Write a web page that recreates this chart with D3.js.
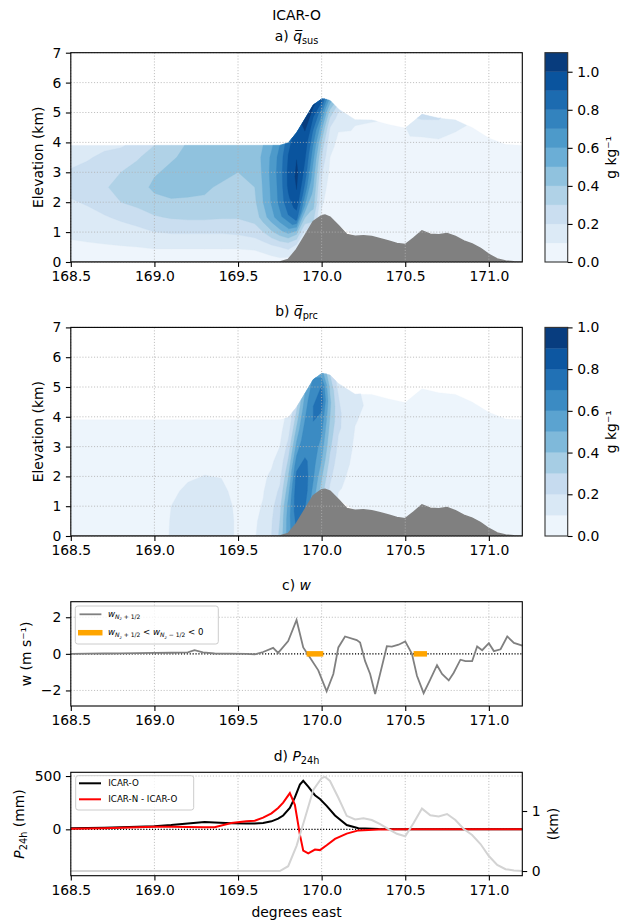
<!DOCTYPE html>
<html>
<head>
<meta charset="utf-8">
<script src="https://cdn.jsdelivr.net/npm/d3@7"></script>
<style>
  body { margin: 0; background: #fff; }
  svg { font-family: "DejaVu Sans", sans-serif; }
</style>
</head>
<body>
<div id="chart"></div>
<script>
// ---- data ----
const lonTicks = [168.5, 169.0, 169.5, 170.0, 170.5, 171.0];
const elevTicks = [0, 1, 2, 3, 4, 5, 6, 7];

// terrain profile (km)
const terrainLon = [168.5, 169.75, 169.8, 169.85, 169.9, 169.95, 170.0, 170.02, 170.05, 170.1,
  170.15, 170.2, 170.25, 170.3, 170.35, 170.4, 170.45, 170.5, 170.55, 170.6,
  170.65, 170.7, 170.75, 170.8, 170.85, 170.9, 170.95, 171.0, 171.05, 171.1, 171.15, 171.2];
const terrainKm = [0, 0, 0.08, 0.42, 0.88, 1.35, 1.55, 1.57, 1.5, 1.22,
  0.92, 0.86, 0.88, 0.85, 0.78, 0.7, 0.62, 0.58, 0.8, 1.04,
  0.93, 0.91, 0.95, 0.85, 0.7, 0.6, 0.45, 0.25, 0.1, 0.03, 0.01, 0];

// model columns and levels (height above ground, km)
const fieldLon = [168.5, 168.6, 168.7, 168.8, 168.9, 169.0, 169.1, 169.2, 169.3, 169.4, 169.5,
  169.6, 169.65, 169.7, 169.75, 169.8, 169.85, 169.9, 169.95, 170.0, 170.05, 170.1,
  170.2, 170.3, 170.4, 170.5, 170.6, 170.7, 170.8, 170.9, 171.0, 171.1, 171.2];
const fieldHeight = [0, 0.5, 1, 1.5, 2, 2.5, 3, 3.5, 3.9];

// suspended hydrometeors, g/kg, one row per column (bottom -> top)
const qsus = [
  [0.04, 0.08, 0.12, 0.16, 0.19, 0.23, 0.21, 0.17, 0.15],
  [0.04, 0.085, 0.13, 0.17, 0.21, 0.25, 0.23, 0.19, 0.17],
  [0.04, 0.09, 0.14, 0.19, 0.25, 0.29, 0.27, 0.22, 0.18],
  [0.04, 0.095, 0.15, 0.22, 0.3, 0.33, 0.3, 0.24, 0.19],
  [0.04, 0.1, 0.17, 0.25, 0.33, 0.36, 0.34, 0.29, 0.23],
  [0.03, 0.11, 0.2, 0.29, 0.37, 0.42, 0.39, 0.35, 0.3],
  [0.03, 0.11, 0.21, 0.31, 0.39, 0.43, 0.42, 0.39, 0.36],
  [0.03, 0.11, 0.21, 0.32, 0.39, 0.42, 0.43, 0.42, 0.41],
  [0.03, 0.11, 0.21, 0.32, 0.39, 0.41, 0.43, 0.44, 0.43],
  [0.03, 0.11, 0.21, 0.31, 0.37, 0.39, 0.42, 0.44, 0.44],
  [0.03, 0.11, 0.22, 0.31, 0.35, 0.37, 0.4, 0.44, 0.44],
  [0.03, 0.12, 0.25, 0.34, 0.38, 0.4, 0.42, 0.45, 0.45],
  [0.04, 0.14, 0.3, 0.45, 0.5, 0.51, 0.52, 0.52, 0.5],
  [0.05, 0.17, 0.38, 0.56, 0.61, 0.62, 0.63, 0.62, 0.58],
  [0.06, 0.2, 0.46, 0.67, 0.73, 0.74, 0.75, 0.74, 0.7],
  [0.07, 0.26, 0.58, 0.8, 0.88, 0.92, 0.92, 0.9, 0.86],
  [0.1, 0.4, 0.82, 0.95, 1.0, 1.02, 1.0, 0.97, 0.95],
  [0.12, 0.35, 0.6, 0.75, 0.85, 0.9, 0.95, 1.0, 1.03],
  [0.3, 0.42, 0.48, 0.54, 0.6, 0.68, 0.78, 0.9, 1.02],
  [0.08, 0.12, 0.16, 0.22, 0.3, 0.4, 0.55, 0.75, 0.95],
  [0.04, 0.05, 0.06, 0.08, 0.1, 0.13, 0.2, 0.35, 0.55],
  [0.03, 0.04, 0.05, 0.05, 0.06, 0.07, 0.09, 0.13, 0.22],
  [0.03, 0.04, 0.05, 0.05, 0.06, 0.06, 0.07, 0.09, 0.11],
  [0.03, 0.04, 0.05, 0.05, 0.06, 0.06, 0.07, 0.08, 0.105],
  [0.03, 0.04, 0.05, 0.05, 0.06, 0.06, 0.07, 0.08, 0.09],
  [0.03, 0.04, 0.05, 0.05, 0.06, 0.06, 0.07, 0.08, 0.095],
  [0.03, 0.04, 0.05, 0.05, 0.06, 0.06, 0.08, 0.15, 0.24],
  [0.03, 0.04, 0.05, 0.05, 0.06, 0.06, 0.08, 0.13, 0.21],
  [0.03, 0.04, 0.05, 0.05, 0.06, 0.06, 0.07, 0.1, 0.14],
  [0.03, 0.04, 0.05, 0.05, 0.05, 0.06, 0.06, 0.07, 0.08],
  [0.03, 0.04, 0.04, 0.05, 0.05, 0.05, 0.06, 0.06, 0.07],
  [0.03, 0.04, 0.04, 0.05, 0.05, 0.05, 0.06, 0.06, 0.07],
  [0.03, 0.04, 0.04, 0.05, 0.05, 0.05, 0.06, 0.06, 0.07]
];

// precipitating hydrometeors, g/kg
const qprc = [
  [0.05, 0.05, 0.05, 0.05, 0.05, 0.05, 0.05, 0.05, 0.05],
  [0.05, 0.05, 0.05, 0.05, 0.05, 0.05, 0.05, 0.05, 0.05],
  [0.05, 0.05, 0.05, 0.05, 0.05, 0.05, 0.05, 0.05, 0.05],
  [0.05, 0.05, 0.05, 0.05, 0.05, 0.04, 0.04, 0.04, 0.04],
  [0.06, 0.06, 0.06, 0.05, 0.05, 0.04, 0.04, 0.04, 0.04],
  [0.08, 0.08, 0.07, 0.06, 0.05, 0.05, 0.05, 0.05, 0.05],
  [0.103, 0.102, 0.1, 0.085, 0.065, 0.05, 0.05, 0.05, 0.05],
  [0.13, 0.13, 0.125, 0.115, 0.09, 0.07, 0.06, 0.05, 0.05],
  [0.14, 0.14, 0.135, 0.125, 0.102, 0.08, 0.06, 0.05, 0.05],
  [0.13, 0.13, 0.13, 0.12, 0.097, 0.07, 0.06, 0.05, 0.05],
  [0.09, 0.09, 0.085, 0.07, 0.06, 0.05, 0.05, 0.05, 0.05],
  [0.095, 0.09, 0.085, 0.08, 0.075, 0.07, 0.06, 0.055, 0.05],
  [0.13, 0.12, 0.105, 0.095, 0.09, 0.08, 0.07, 0.06, 0.06],
  [0.2, 0.19, 0.17, 0.14, 0.11, 0.09, 0.08, 0.07, 0.06],
  [0.32, 0.3, 0.27, 0.22, 0.17, 0.13, 0.1, 0.08, 0.07],
  [0.55, 0.55, 0.52, 0.45, 0.38, 0.3, 0.22, 0.15, 0.12],
  [0.72, 0.76, 0.76, 0.74, 0.66, 0.55, 0.45, 0.35, 0.28],
  [0.7, 0.74, 0.74, 0.72, 0.68, 0.64, 0.6, 0.55, 0.5],
  [0.55, 0.6, 0.63, 0.65, 0.67, 0.7, 0.7, 0.68, 0.62],
  [0.35, 0.42, 0.5, 0.56, 0.62, 0.68, 0.76, 0.7, 0.55],
  [0.18, 0.22, 0.27, 0.32, 0.36, 0.4, 0.42, 0.38, 0.3],
  [0.09, 0.11, 0.13, 0.16, 0.19, 0.22, 0.22, 0.2, 0.16],
  [0.05, 0.06, 0.06, 0.07, 0.08, 0.09, 0.105, 0.12, 0.11],
  [0.04, 0.05, 0.05, 0.06, 0.06, 0.07, 0.07, 0.08, 0.08],
  [0.04, 0.05, 0.05, 0.05, 0.06, 0.06, 0.06, 0.07, 0.07],
  [0.04, 0.05, 0.05, 0.05, 0.06, 0.06, 0.06, 0.07, 0.07],
  [0.04, 0.05, 0.05, 0.05, 0.06, 0.06, 0.06, 0.07, 0.07],
  [0.04, 0.05, 0.05, 0.05, 0.06, 0.06, 0.06, 0.07, 0.07],
  [0.04, 0.05, 0.05, 0.05, 0.06, 0.06, 0.06, 0.07, 0.07],
  [0.04, 0.05, 0.05, 0.05, 0.06, 0.06, 0.06, 0.07, 0.07],
  [0.04, 0.05, 0.05, 0.05, 0.06, 0.06, 0.06, 0.07, 0.07],
  [0.04, 0.05, 0.05, 0.05, 0.06, 0.06, 0.06, 0.07, 0.07],
  [0.04, 0.05, 0.05, 0.05, 0.06, 0.06, 0.06, 0.07, 0.07]
];

const qsusLevels = [0, 0.1, 0.2, 0.3, 0.4, 0.5, 0.6, 0.7, 0.8, 0.9, 1.0, 1.1];
const qprcLevels = [0, 0.1, 0.2, 0.3, 0.4, 0.5, 0.6, 0.7, 0.8, 0.9, 1.0];
const cbarTicks = [0, 0.2, 0.4, 0.6, 0.8, 1.0];

// vertical velocity at model top (m/s)
const wLon = [168.5, 168.6, 168.7, 168.8, 168.9, 169.0, 169.1, 169.2, 169.24, 169.29,
  169.36, 169.45, 169.55, 169.6, 169.65, 169.71, 169.74, 169.8, 169.85, 169.89,
  169.93, 169.98, 170.03, 170.07, 170.1, 170.14, 170.21, 170.23, 170.26, 170.29,
  170.32, 170.39, 170.42, 170.46, 170.5, 170.54, 170.57, 170.61, 170.65, 170.69,
  170.72, 170.76, 170.79, 170.83, 170.86, 170.9, 170.93, 170.96, 171.0, 171.03,
  171.07, 171.11, 171.15, 171.2];
const wVal = [0.0, 0.01, 0.02, 0.03, 0.04, 0.05, 0.06, 0.08, 0.2, 0.08,
  0.02, 0.01, 0.0, -0.03, 0.1, 0.33, 0.05, 0.7, 1.85, 0.35,
  -0.2, -0.9, -2.05, -1.1, 0.35, 0.95, 0.75, 0.62, -0.4, -1.1,
  -2.2, 0.42, 0.4, 0.5, 0.68, 0.0, -1.2, -2.15, -1.4, -0.62,
  -1.1, -1.45, -1.03, -0.32, -0.4, -0.4, 0.4, 0.2, 0.58, 0.15,
  0.25, 0.95, 0.6, 0.45];
const wFlagStart = [169.91, 170.55];
const wFlagEnd = [170.01, 170.63];
const wTicks = [-2, 0, 2];

// 24h precipitation (mm)
const pLon = [168.5, 168.7, 168.9, 169.0, 169.1, 169.2, 169.3, 169.36, 169.46, 169.55,
  169.6, 169.65, 169.7, 169.74, 169.77, 169.81, 169.84, 169.87, 169.89, 169.92,
  169.96, 169.99, 170.03, 170.08, 170.15, 170.22, 170.34, 170.5, 171.2];
const pIcarO = [10, 15, 25, 30, 40, 55, 68, 65, 58, 55,
  55, 60, 75, 100, 130, 200, 300, 420, 455, 400,
  320, 285, 220, 130, 40, 10, 2, 0, 0];
const pDiff = [5, 10, 20, 25, 25, 22, 20, 20, 60, 75,
  80, 110, 150, 200, 250, 340, 230, -50, -200, -225,
  -190, -195, -150, -90, -40, -10, -2, 0, 0];
const pTicks = [0, 500];
const kmTicks = [0, 1];

// ---- drawing ----
const FS = 13.9;
const svg = d3.select("#chart").append("svg")
  .attr("width", 623).attr("height", 923);
svg.append("rect").attr("width", 623).attr("height", 923).attr("fill", "#fff");

const x = d3.scaleLinear().domain([168.5, 171.2]).range([70.8, 522.3]);
const terrainAt = d3.scaleLinear().domain(terrainLon).range(terrainKm);
const terrainPts = d3.zip(terrainLon, terrainKm);
const blues = d3.scaleLinear().domain(d3.range(9).map(i => i / 8)).range(d3.schemeBlues[9]);

// text with italic / sub / overline pieces
function rich(t, parts, base) {
  let cur = 0;
  parts.forEach(([s, o = {}]) => {
    const sh = (o.sh || 0) * base;
    t.append("tspan").text(s)
      .attr("dy", sh - cur)
      .attr("font-size", base * (o.sc || 1))
      .attr("font-style", o.it ? "italic" : null);
    cur = sh;
  });
  return t;
}

function grid(g, y, yTicks, top, bottom) {
  const gg = g.append("g").attr("stroke", "#b0b0b0").attr("stroke-width", 0.8)
    .attr("stroke-dasharray", "1.1,1.8");
  gg.selectAll(".gx").data(lonTicks).join("line")
    .attr("x1", d => x(d)).attr("x2", d => x(d)).attr("y1", top).attr("y2", bottom);
  gg.selectAll(".gy").data(yTicks).join("line").attr("class", "gy")
    .attr("x1", x.range()[0]).attr("x2", x.range()[1]).attr("y1", d => y(d)).attr("y2", d => y(d));
}

function styleAxis(a) {
  a.attr("font-size", null).attr("font-family", null);
  a.select(".domain").remove();
  a.selectAll("line").attr("stroke", "#000").attr("stroke-width", 1.1);
  a.selectAll("text").attr("font-size", FS).attr("fill", "#000");
}

function frame(top, bottom, y, yTicks, yFmt) {
  svg.append("g").attr("transform", `translate(0,${bottom})`)
    .call(d3.axisBottom(x).tickValues(lonTicks).tickFormat(d3.format(".1f"))
      .tickSize(4.9).tickPadding(4.6).tickSizeOuter(0))
    .call(styleAxis);
  svg.append("g").attr("transform", `translate(${x.range()[0]},0)`)
    .call(d3.axisLeft(y).tickValues(yTicks).tickFormat(yFmt)
      .tickSize(4.9).tickPadding(4.6).tickSizeOuter(0))
    .call(styleAxis);
  svg.append("rect").attr("x", x.range()[0]).attr("y", top)
    .attr("width", x.range()[1] - x.range()[0]).attr("height", bottom - top)
    .attr("fill", "none").attr("stroke", "#000").attr("stroke-width", 1.1);
}

function yLabel(xpos, cy, parts) {
  const t = svg.append("text").attr("transform", `translate(${xpos},${cy}) rotate(-90)`)
    .attr("text-anchor", "middle").attr("font-size", FS);
  rich(t, parts, FS);
}

function title(cy, parts) {
  const t = svg.append("text").attr("x", (x.range()[0] + x.range()[1]) / 2).attr("y", cy)
    .attr("text-anchor", "middle").attr("font-size", FS);
  rich(t, parts, FS);
}

function fieldPanel(id, top, bottom, values, levels) {
  const y = d3.scaleLinear().domain([0, 7]).range([bottom, top]);
  svg.append("clipPath").attr("id", id).append("rect")
    .attr("x", x.range()[0]).attr("y", top)
    .attr("width", x.range()[1] - x.range()[0]).attr("height", bottom - top);
  const g = svg.append("g").attr("clip-path", `url(#${id})`);

  const n = fieldLon.length, m = fieldHeight.length;
  const flat = new Array(n * m);
  for (let j = 0; j < m; j++) for (let i = 0; i < n; i++) flat[j * n + i] = values[i][j];
  const col = d3.scaleLinear().domain(d3.range(n)).range(fieldLon).clamp(true);
  const row = d3.scaleLinear().domain(d3.range(m)).range(fieldHeight).clamp(true);
  const proj = d3.geoTransform({
    point(px, py) {
      const lon = col(px - 0.5);
      this.stream.point(x(lon), y(terrainAt(lon) + row(py - 0.5)));
    }
  });
  const path = d3.geoPath(proj);
  const nb = levels.length - 1;
  const color = i => blues((i + 0.5) / nb);
  const contours = d3.contours().size([n, m]).thresholds(levels.slice(0, -1))(flat);
  g.selectAll("path.c").data(contours).join("path").attr("class", "c")
    .attr("d", path).attr("fill", (d, i) => color(i)).attr("stroke", (d, i) => color(i))
    .attr("stroke-width", 0.3);

  g.append("path").datum(terrainPts)
    .attr("d", d3.area().x(d => x(d[0])).y0(y(0)).y1(d => y(d[1])))
    .attr("fill", "#808080").attr("stroke", "#808080").attr("stroke-width", 1.6);

  grid(svg, y, elevTicks, top, bottom);
  frame(top, bottom, y, elevTicks, d3.format("d"));
  yLabel(43, (top + bottom) / 2, [["Elevation (km)"]]);

  // colorbar
  const cx0 = 545, cw = 22.7;
  const cy = d3.scaleLinear().domain([levels[0], levels[nb]]).range([bottom, top]);
  const cb = svg.append("g");
  cb.selectAll("rect").data(d3.range(nb)).join("rect")
    .attr("x", cx0).attr("width", cw)
    .attr("y", i => cy(levels[i + 1])).attr("height", i => cy(levels[i]) - cy(levels[i + 1]))
    .attr("fill", i => color(i)).attr("stroke", i => color(i)).attr("stroke-width", 0.3);
  cb.append("rect").attr("x", cx0).attr("y", top).attr("width", cw).attr("height", bottom - top)
    .attr("fill", "none").attr("stroke", "#333").attr("stroke-width", 1.1);
  svg.append("g").attr("transform", `translate(${cx0 + cw},0)`)
    .call(d3.axisRight(cy).tickValues(cbarTicks).tickFormat(d3.format(".1f"))
      .tickSize(4.9).tickPadding(4.6).tickSizeOuter(0))
    .call(styleAxis);
  yLabel(616, (top + bottom) / 2, [["g kg⁻¹"]]);
}

// title
title(20, [["ICAR-O"]]);
title(41, [["a) "], ["q\u0305", { it: 1 }], ["sus", { sc: 0.7, sh: 0.25 }]]);
fieldPanel("clipA", 52.7, 262, qsus, qsusLevels);

title(315.5, [["b) "], ["q\u0305", { it: 1 }], ["prc", { sc: 0.7, sh: 0.25 }]]);
fieldPanel("clipB", 327.4, 536, qprc, qprcLevels);

// ---- panel c ----
{
  const top = 601.7, bottom = 706;
  const y = d3.scaleLinear().domain([-2.85, 2.85]).range([bottom, top]);
  title(590, [["c) "], ["w", { it: 1 }]]);
  grid(svg, y, wTicks, top, bottom);
  svg.append("line").attr("x1", x.range()[0]).attr("x2", x.range()[1])
    .attr("y1", y(0)).attr("y2", y(0)).attr("stroke", "#000").attr("stroke-width", 1.1)
    .attr("stroke-dasharray", "1.1,1.8");
  svg.append("path").datum(d3.zip(wLon, wVal))
    .attr("d", d3.line().x(d => x(d[0])).y(d => y(d[1])))
    .attr("fill", "none").attr("stroke", "#808080").attr("stroke-width", 1.8);
  svg.selectAll(".flag").data(d3.zip(wFlagStart, wFlagEnd)).join("line").attr("class", "flag")
    .attr("x1", d => x(d[0])).attr("x2", d => x(d[1])).attr("y1", y(0)).attr("y2", y(0))
    .attr("stroke", "#ffa500").attr("stroke-width", 5.5);
  frame(top, bottom, y, wTicks, d3.format("d"));
  yLabel(31, (top + bottom) / 2, [["w (m s⁻¹)"]]);

  // legend
  const lg = svg.append("g");
  lg.append("rect").attr("x", 75.3).attr("y", 606).attr("width", 143).attr("height", 38)
    .attr("rx", 2.5).attr("fill", "#fff").attr("fill-opacity", 0.8)
    .attr("stroke", "#cccccc").attr("stroke-width", 1);
  lg.append("line").attr("x1", 79.5).attr("x2", 101.4).attr("y1", 614.3).attr("y2", 614.3)
    .attr("stroke", "#808080").attr("stroke-width", 1.8);
  lg.append("line").attr("x1", 78).attr("x2", 102.5).attr("y1", 632.7).attr("y2", 632.7)
    .attr("stroke", "#ffa500").attr("stroke-width", 5.5);
  const B = 8.6;
  const wsub = (sign) => [["w", { it: 1 }], ["N", { it: 1, sc: 0.7, sh: 0.25 }],
    ["z", { it: 1, sc: 0.5, sh: 0.45 }], [" " + sign + " 1/2", { sc: 0.7, sh: 0.25 }]];
  rich(lg.append("text").attr("x", 108).attr("y", 616.5).attr("font-size", B), wsub("+"), B);
  rich(lg.append("text").attr("x", 108).attr("y", 635).attr("font-size", B),
    [...wsub("+"), [" < "], ...wsub("−"), [" < 0"]], B);
}

// ---- panel d ----
{
  const top = 772.3, bottom = 875.7;
  const y = d3.scaleLinear().domain([-435, 535]).range([bottom, top]);
  const yk = d3.scaleLinear().domain([-0.078, 1.645]).range([bottom, top]);
  title(760.5, [["d) "], ["P", { it: 1 }], ["24h", { sc: 0.7, sh: 0.25 }]]);
  grid(svg, y, pTicks, top, bottom);
  svg.append("line").attr("x1", x.range()[0]).attr("x2", x.range()[1])
    .attr("y1", y(0)).attr("y2", y(0)).attr("stroke", "#000").attr("stroke-width", 1.1)
    .attr("stroke-dasharray", "1.1,1.8");
  const line = d3.line().x(d => x(d[0])).y(d => y(d[1]));
  svg.append("path").datum(d3.zip(pLon, pIcarO)).attr("d", line)
    .attr("fill", "none").attr("stroke", "#000").attr("stroke-width", 2);
  svg.append("path").datum(d3.zip(pLon, pDiff)).attr("d", line)
    .attr("fill", "none").attr("stroke", "#ff0000").attr("stroke-width", 2);
  svg.append("path").datum(terrainPts)
    .attr("d", d3.line().x(d => x(d[0])).y(d => yk(d[1])))
    .attr("fill", "none").attr("stroke", "#d3d3d3").attr("stroke-width", 2);
  frame(top, bottom, y, pTicks, d3.format("d"));
  svg.append("g").attr("transform", `translate(${x.range()[1]},0)`)
    .call(d3.axisRight(yk).tickValues(kmTicks).tickFormat(d3.format("d"))
      .tickSize(4.9).tickPadding(4.6).tickSizeOuter(0))
    .call(styleAxis);
  yLabel(24, (top + bottom) / 2, [["P", { it: 1 }], ["24h", { sc: 0.7, sh: 0.25 }], [" (mm)"]]);
  yLabel(558, (top + bottom) / 2, [["(km)"]]);
  svg.append("text").attr("x", (x.range()[0] + x.range()[1]) / 2).attr("y", 917)
    .attr("text-anchor", "middle").attr("font-size", FS).text("degrees east");

  const lg = svg.append("g");
  lg.append("rect").attr("x", 75.7).attr("y", 775.7).attr("width", 118).attr("height", 34.3)
    .attr("rx", 2.5).attr("fill", "#fff").attr("fill-opacity", 0.8)
    .attr("stroke", "#cccccc").attr("stroke-width", 1);
  const items = [["ICAR-O", "#000", 783.3], ["ICAR-N - ICAR-O", "#ff0000", 799.3]];
  items.forEach(([label, c, yy]) => {
    lg.append("line").attr("x1", 79).attr("x2", 101).attr("y1", yy).attr("y2", yy)
      .attr("stroke", c).attr("stroke-width", 2);
    lg.append("text").attr("x", 108.3).attr("y", yy).attr("dy", "0.35em")
      .attr("font-size", 8.7).text(label);
  });
}
</script>
</body>
</html>
